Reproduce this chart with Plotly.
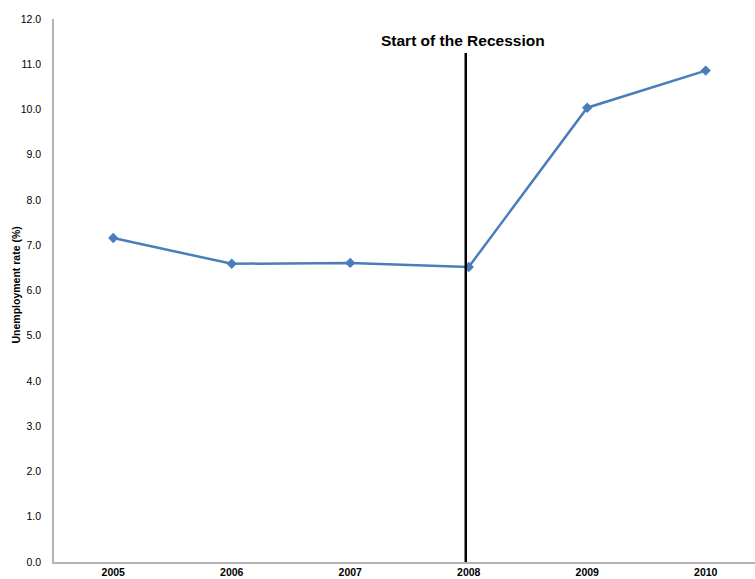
import plotly.graph_objects as go

years = ["2005", "2006", "2007", "2008", "2009", "2010"]
rate = [7.16, 6.59, 6.61, 6.52, 10.04, 10.86]
y_ticks = [0, 1, 2, 3, 4, 5, 6, 7, 8, 9, 10, 11, 12]
y_tick_labels = [f"{v:.1f}" for v in y_ticks]
recession_label = "Start of the Recession"
recession_x = 2.975
recession_top = 11.25

W, H = 755, 579
L, R, T, B = 54, 0, 19, 17
xpos = list(range(len(years)))

fig = go.Figure()
fig.add_trace(go.Scatter(
    x=xpos, y=rate, mode="lines+markers",
    line=dict(color="#4a7ebb", width=2.5),
    marker=dict(symbol="diamond", size=8, color="#4a7ebb"),
    showlegend=False, hoverinfo="skip"))

fig.add_shape(type="line", xref="x", yref="y",
              x0=recession_x, x1=recession_x, y0=0, y1=recession_top,
              line=dict(color="black", width=2.5))
fig.add_annotation(x=recession_x, y=recession_top, xref="x", yref="y",
                   text="<b>" + recession_label + "</b>", showarrow=False,
                   yanchor="bottom", yshift=2, xshift=-3,
                   font=dict(family="Liberation Sans, Arial", size=15.5, color="black"))
fig.add_annotation(x=(15 - L) / (W - L - R), y=0.5, xref="paper", yref="paper",
                   text="<b>Unemployment rate (%)</b>", showarrow=False,
                   textangle=-90, xanchor="center", yanchor="middle", yshift=5,
                   font=dict(family="Liberation Sans, Arial", size=10.5, color="black"))

fig.update_layout(
    width=W, height=H,
    margin=dict(l=L, r=R, t=T, b=B, autoexpand=False),
    paper_bgcolor="white", plot_bgcolor="white",
    font=dict(family="Liberation Sans, Arial", size=10.5, color="black"),
    xaxis=dict(range=[-0.5, 5.416], tickmode="array", tickvals=xpos,
               ticktext=["<b>" + y + "</b>" for y in years],
               tickfont=dict(size=10.5),
               showgrid=False, zeroline=False, showline=True,
               linecolor="#b3b3b3", linewidth=1.5, ticks="", ticklabelstandoff=0),
    yaxis=dict(range=[0, 12], tickmode="array", tickvals=y_ticks,
               ticktext=y_tick_labels, showgrid=False, zeroline=False,
               showline=True, linecolor="#b3b3b3", linewidth=1.5,
               ticks="", ticklabelstandoff=9),
)

fig.write_html("out.html")
